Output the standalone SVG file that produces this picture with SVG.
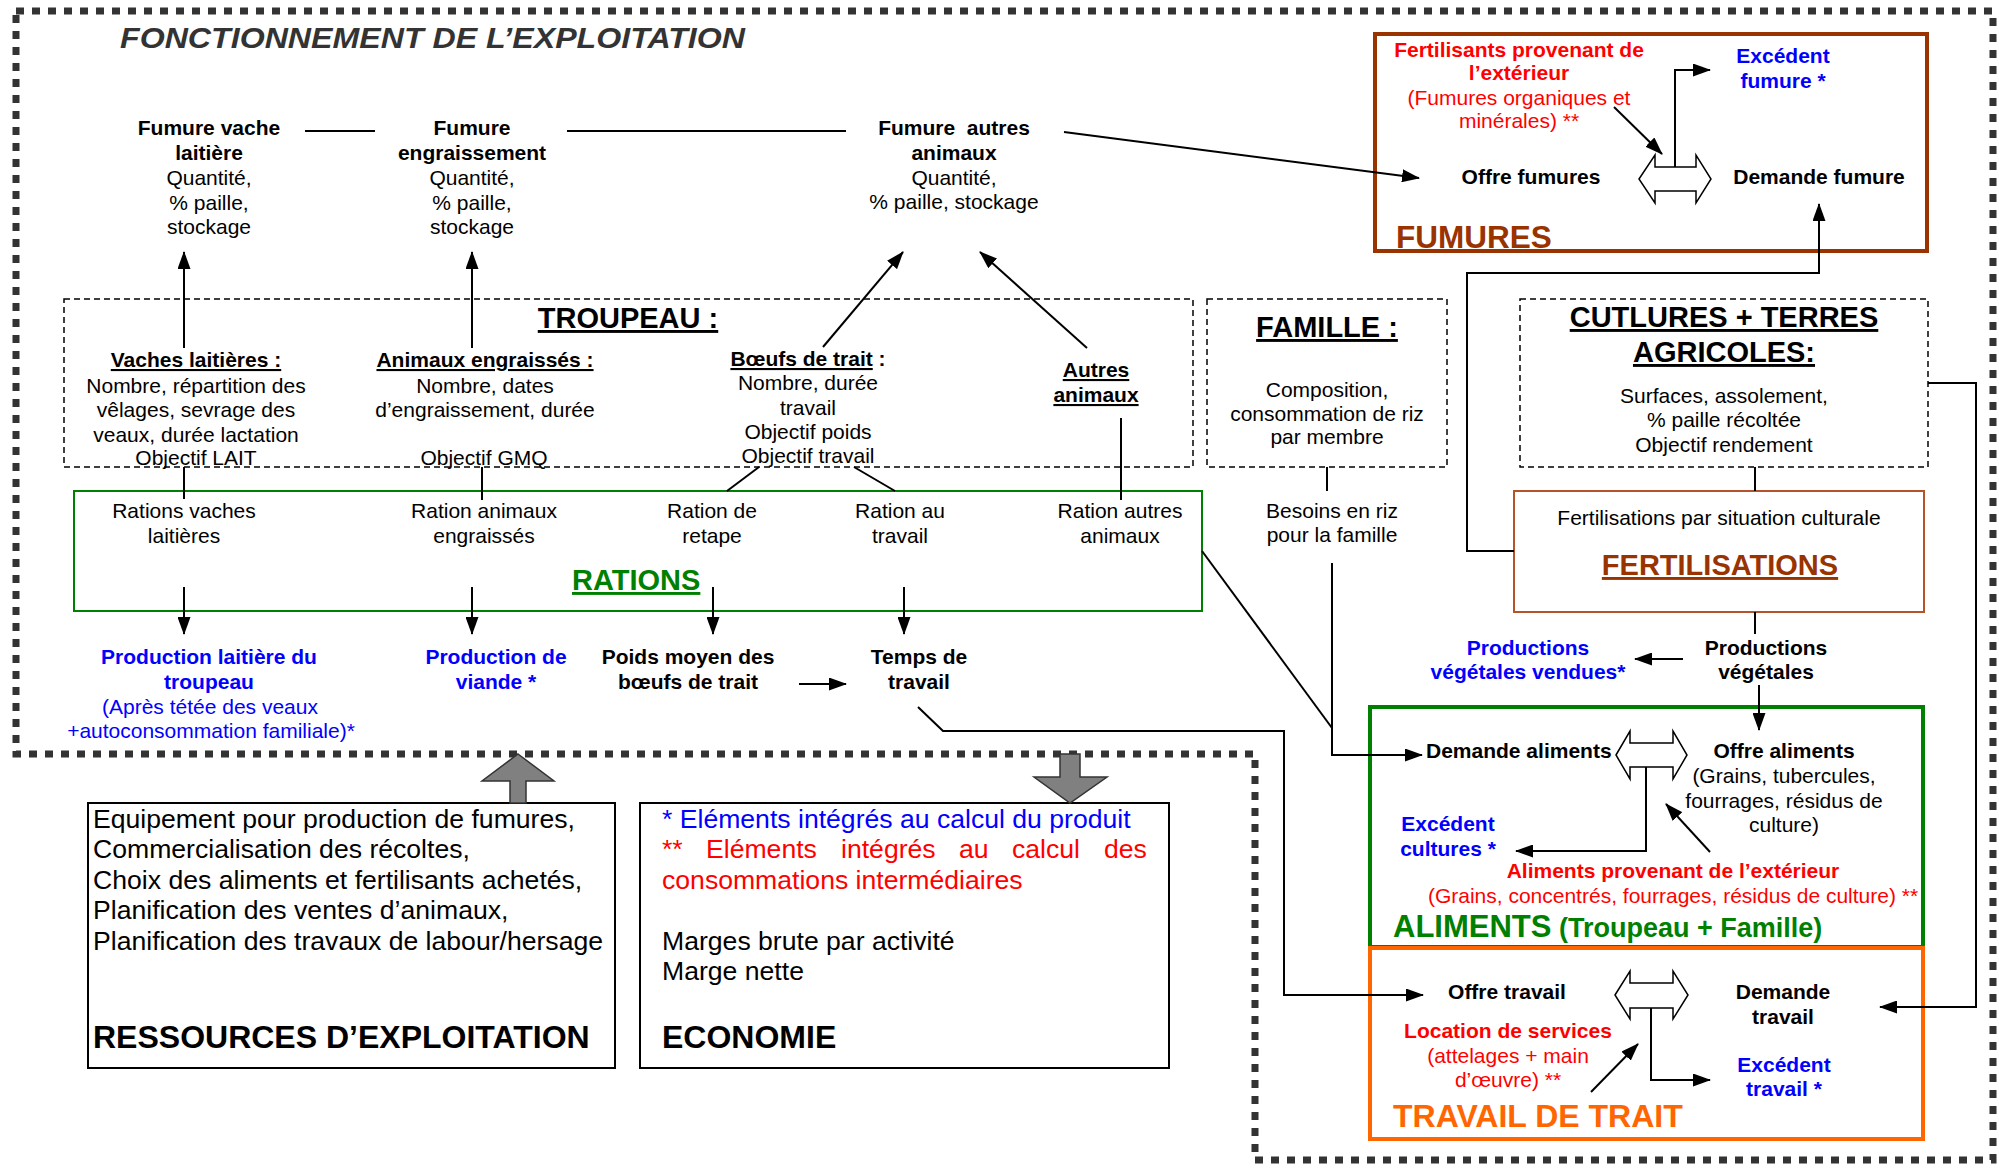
<svg xmlns="http://www.w3.org/2000/svg" width="1999" height="1165" viewBox="0 0 1999 1165">
<defs>
<marker id="ah" markerUnits="userSpaceOnUse" markerWidth="18" markerHeight="13" refX="17" refY="6.5" orient="auto">
<path d="M0,0 L18,6.5 L0,13 Z" fill="#000"/>
</marker>
<style>
text{font-family:"Liberation Sans",Arial,sans-serif;font-size:21px;text-anchor:middle;fill:#000}
.b{font-weight:bold}
.s{text-anchor:start}
.u{text-decoration:underline}
.blue{fill:#0000ff}
.red{fill:#ff0000}
.green{fill:#008000}
.brown{fill:#993300}
.orange{fill:#ff6600}
.h29{font-size:29px;font-weight:bold}
.h31{font-size:32px;font-weight:bold}
.big{font-size:26.6px}
.c{fill:none;stroke:#000;stroke-width:2}
.a{marker-end:url(#ah)}
.dash{fill:none;stroke:#000;stroke-width:1.5;stroke-dasharray:6 4}
.dbl{fill:#fff;stroke:#000;stroke-width:1.5}
.blk{fill:#808080;stroke:#333;stroke-width:1.5}
</style>
</defs>
<rect width="1999" height="1165" fill="#fff"/>

<g id="border">
<path d="M16,11 H1993 V1160 H1255 V754 H16 Z" fill="none" stroke="#333" stroke-width="7" stroke-dasharray="8 8"/>
</g>

<g id="title">
<text x="120" y="48" class="s b" style="font-size:30px;font-style:italic;fill:#333" textLength="625" lengthAdjust="spacingAndGlyphs">FONCTIONNEMENT DE L’EXPLOITATION</text>
</g>

<g id="boxes">
<rect id="box-fumures" x="1375" y="34" width="552" height="217" fill="none" stroke="#993300" stroke-width="4"/>
<rect id="box-troupeau" x="64" y="299" width="1129" height="168" class="dash"/>
<rect id="box-famille" x="1207" y="299" width="240" height="168" class="dash"/>
<rect id="box-cultures" x="1520" y="299" width="408" height="168" class="dash"/>
<rect id="box-rations" x="74" y="491" width="1128" height="120" fill="none" stroke="#008000" stroke-width="2"/>
<rect id="box-fertilisations" x="1514" y="491" width="410" height="121" fill="none" stroke="#b5532a" stroke-width="2"/>
<rect id="box-aliments" x="1370" y="707" width="553" height="240" fill="none" stroke="#008000" stroke-width="4"/>
<rect id="box-travail" x="1370" y="948" width="553" height="191" fill="none" stroke="#ff6600" stroke-width="4"/>
<rect id="box-ressources" x="88" y="803" width="527" height="265" fill="none" stroke="#000" stroke-width="2"/>
<rect id="box-economie" x="640" y="803" width="529" height="265" fill="none" stroke="#000" stroke-width="2"/>
</g>

<g id="connectors">
<line class="c" x1="305" y1="131" x2="375" y2="131"/>
<line class="c" x1="567" y1="131" x2="846" y2="131"/>
<line class="c a" x1="1064" y1="132" x2="1419" y2="178"/>
<line class="c a" x1="184" y1="348" x2="184" y2="252"/>
<line class="c a" x1="472" y1="348" x2="472" y2="252"/>
<line class="c a" x1="823" y1="347" x2="903" y2="252"/>
<line class="c a" x1="1087" y1="348" x2="980" y2="252"/>
<line class="c" x1="184" y1="467" x2="184" y2="499"/>
<line class="c" x1="482" y1="467" x2="482" y2="500"/>
<line class="c" x1="759" y1="467" x2="727" y2="491"/>
<line class="c" x1="854" y1="467" x2="895" y2="491"/>
<line class="c" x1="1121" y1="418" x2="1121" y2="500"/>
<line class="c" x1="1327" y1="467" x2="1327" y2="491"/>
<line class="c a" x1="184" y1="587" x2="184" y2="634"/>
<line class="c a" x1="472" y1="587" x2="472" y2="634"/>
<line class="c a" x1="713" y1="587" x2="713" y2="634"/>
<line class="c a" x1="904" y1="587" x2="904" y2="634"/>
<line class="c a" x1="799" y1="684" x2="846" y2="684"/>
<path class="c a" d="M918,707 L943,731 H1284 V995 H1423"/>
<line class="c" x1="1202" y1="551" x2="1332" y2="728"/>
<path class="c a" d="M1332,563 V755 H1422"/>
<path class="c a" d="M1514,551 H1467 V273 H1819 V204"/>
<line class="c" x1="1755" y1="467" x2="1755" y2="491"/>
<line class="c" x1="1755" y1="612" x2="1755" y2="634"/>
<line class="c a" x1="1683" y1="659" x2="1635" y2="659"/>
<line class="c a" x1="1759" y1="685" x2="1759" y2="730"/>
<path class="c a" d="M1928,383 H1976 V1007 H1880"/>
<line class="c a" x1="1614" y1="107" x2="1662" y2="154"/>
<path class="c a" d="M1675,167 V70 H1710"/>
<path class="c a" d="M1646,767 V851 H1516"/>
<line class="c a" x1="1710" y1="852" x2="1666" y2="804"/>
<path class="c a" d="M1651,1008 V1080 H1710"/>
<line class="c a" x1="1591" y1="1092" x2="1638" y2="1044"/>
<polygon class="dbl" points="1639,179 1655,155 1655,167 1696,167 1696,155 1711,179 1696,203 1696,191 1655,191 1655,203"/>
<polygon class="dbl" points="1616,755 1630,731 1630,743 1673,743 1673,731 1687,755 1673,779 1673,767 1630,767 1630,779"/>
<polygon class="dbl" points="1615,995 1630,971 1630,983 1673,983 1673,971 1688,995 1673,1019 1673,1008 1630,1008 1630,1019"/>
<polygon class="blk" points="518,754 554,781 526,781 526,803 510,803 510,781 482,781"/>
<polygon class="blk" points="1060,754 1080,754 1080,777 1107,777 1070,803 1034,777 1060,777"/>
</g>

<g id="n-fumure-vl">
<text class="b" x="209" y="135">Fumure vache</text>
<text class="b" x="209" y="160">laitière</text>
<text x="209" y="185">Quantité,</text>
<text x="209" y="210">% paille,</text>
<text x="209" y="234">stockage</text>
</g>
<g id="n-fumure-eng">
<text class="b" x="472" y="135">Fumure</text>
<text class="b" x="472" y="160">engraissement</text>
<text x="472" y="185">Quantité,</text>
<text x="472" y="210">% paille,</text>
<text x="472" y="234">stockage</text>
</g>
<g id="n-fumure-aut">
<text class="b" x="954" y="135" xml:space="preserve">Fumure  autres</text>
<text class="b" x="954" y="160">animaux</text>
<text x="954" y="185">Quantité,</text>
<text x="954" y="209">% paille, stockage</text>
</g>

<g id="n-fumures">
<text class="b red" x="1519" y="57">Fertilisants provenant de</text>
<text class="b red" x="1519" y="80">l’extérieur</text>
<text class="red" x="1519" y="105">(Fumures organiques et</text>
<text class="red" x="1519" y="128">minérales) **</text>
<text class="b blue" x="1783" y="63">Excédent</text>
<text class="b blue" x="1783" y="88">fumure *</text>
<text class="b" x="1531" y="184">Offre fumures</text>
<text class="b" x="1819" y="184">Demande fumure</text>
<text class="s brown" x="1396" y="248" style="font-size:31.5px;font-weight:bold">FUMURES</text>
</g>

<g id="n-troupeau">
<text class="h29 u" x="628" y="328">TROUPEAU :</text>
</g>
<g id="n-vaches">
<text class="b u" x="196" y="367">Vaches laitières :</text>
<text x="196" y="393">Nombre, répartition des</text>
<text x="196" y="417">vêlages, sevrage des</text>
<text x="196" y="442">veaux, durée lactation</text>
<text x="196" y="465">Objectif LAIT</text>
</g>
<g id="n-engraisses">
<text class="b u" x="485" y="367">Animaux engraissés :</text>
<text x="485" y="393">Nombre, dates</text>
<text x="485" y="417">d’engraissement, durée</text>
<text x="484" y="465">Objectif GMQ</text>
</g>
<g id="n-boeufs">
<text class="b" x="808" y="366"><tspan style="text-decoration:underline">Bœufs de trait</tspan> :</text>
<text x="808" y="390">Nombre, durée</text>
<text x="808" y="415">travail</text>
<text x="808" y="439">Objectif poids</text>
<text x="808" y="463">Objectif travail</text>
</g>
<g id="n-autres">
<text class="b u" x="1096" y="377">Autres</text>
<text class="b u" x="1096" y="402">animaux</text>
</g>

<g id="n-famille">
<text class="h29 u" x="1327" y="337">FAMILLE :</text>
<text x="1327" y="397">Composition,</text>
<text x="1327" y="421">consommation de riz</text>
<text x="1327" y="444">par membre</text>
</g>
<g id="n-besoins">
<text x="1332" y="518">Besoins en riz</text>
<text x="1332" y="542">pour la famille</text>
</g>

<g id="n-cultures">
<text class="h29 u" x="1724" y="327">CUTLURES + TERRES</text>
<text class="h29 u" x="1724" y="362">AGRICOLES:</text>
<text x="1724" y="403">Surfaces, assolement,</text>
<text x="1724" y="427">% paille récoltée</text>
<text x="1724" y="452">Objectif rendement</text>
</g>

<g id="n-fertilisations">
<text x="1719" y="525">Fertilisations par situation culturale</text>
<text class="h29 u brown" x="1720" y="575">FERTILISATIONS</text>
</g>

<g id="n-rations">
<text x="184" y="518">Rations vaches</text>
<text x="184" y="543">laitières</text>
<text x="484" y="518">Ration animaux</text>
<text x="484" y="543">engraissés</text>
<text x="712" y="518">Ration de</text>
<text x="712" y="543">retape</text>
<text x="900" y="518">Ration au</text>
<text x="900" y="543">travail</text>
<text x="1120" y="518">Ration autres</text>
<text x="1120" y="543">animaux</text>
<text class="s h29 u green" x="572" y="590">RATIONS</text>
</g>

<g id="n-prod-lait">
<text class="b blue" x="209" y="664">Production laitière du</text>
<text class="b blue" x="209" y="689">troupeau</text>
<text class="blue" x="210" y="714">(Après tétée des veaux</text>
<text class="blue" x="211" y="738">+autoconsommation familiale)*</text>
</g>
<g id="n-prod-viande">
<text class="b blue" x="496" y="664">Production de</text>
<text class="b blue" x="496" y="689">viande *</text>
</g>
<g id="n-poids">
<text class="b" x="688" y="664">Poids moyen des</text>
<text class="b" x="688" y="689">bœufs de trait</text>
</g>
<g id="n-temps">
<text class="b" x="919" y="664">Temps de</text>
<text class="b" x="919" y="689">travail</text>
</g>

<g id="n-productions">
<text class="b" x="1766" y="655">Productions</text>
<text class="b" x="1766" y="679">végétales</text>
<text class="b blue" x="1528" y="655">Productions</text>
<text class="b blue" x="1528" y="679">végétales vendues*</text>
</g>

<g id="n-aliments">
<text class="s b" x="1426" y="758">Demande aliments</text>
<text class="b" x="1784" y="758">Offre aliments</text>
<text x="1784" y="783">(Grains, tubercules,</text>
<text x="1784" y="808">fourrages, résidus de</text>
<text x="1784" y="832">culture)</text>
<text class="b blue" x="1448" y="831">Excédent</text>
<text class="b blue" x="1448" y="856">cultures *</text>
<text class="b red" x="1673" y="878">Aliments provenant de l’extérieur</text>
<text class="red" x="1673" y="903">(Grains, concentrés, fourrages, résidus de culture) **</text>
<text class="s b green" x="1393" y="937"><tspan style="font-size:31px">ALIMENTS</tspan><tspan style="font-size:27px"> (Troupeau + Famille)</tspan></text>
</g>

<g id="n-travail">
<text class="b" x="1507" y="999">Offre travail</text>
<text class="b" x="1783" y="999">Demande</text>
<text class="b" x="1783" y="1024">travail</text>
<text class="b red" x="1508" y="1038">Location de services</text>
<text class="red" x="1508" y="1063">(attelages + main</text>
<text class="red" x="1508" y="1087">d’œuvre) **</text>
<text class="b blue" x="1784" y="1072">Excédent</text>
<text class="b blue" x="1784" y="1096">travail *</text>
<text class="s orange" x="1393" y="1127" style="font-size:32px;font-weight:bold">TRAVAIL DE TRAIT</text>
</g>

<g id="n-ressources">
<text class="s big" x="93" y="828">Equipement pour production de fumures,</text>
<text class="s big" x="93" y="858">Commercialisation des récoltes,</text>
<text class="s big" x="93" y="889">Choix des aliments et fertilisants achetés,</text>
<text class="s big" x="93" y="919">Planification des ventes d’animaux,</text>
<text class="s big" x="93" y="950">Planification des travaux de labour/hersage</text>
<text class="s h31" x="93" y="1048">RESSOURCES D’EXPLOITATION</text>
</g>

<g id="n-economie">
<text class="s big blue" x="662" y="828">* Eléments intégrés au calcul du produit</text>
<text class="s big red" y="858"><tspan x="662">**</tspan><tspan x="706">Eléments</tspan><tspan x="841">intégrés</tspan><tspan x="959">au</tspan><tspan x="1012">calcul</tspan><tspan x="1104">des</tspan></text>
<text class="s big red" x="662" y="889">consommations intermédiaires</text>
<text class="s big" x="662" y="950">Marges brute par activité</text>
<text class="s big" x="662" y="980">Marge nette</text>
<text class="s h31" x="662" y="1048">ECONOMIE</text>
</g>
</svg>
